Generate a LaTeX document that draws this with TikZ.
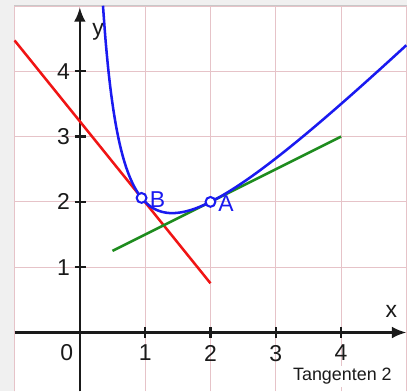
\documentclass[tikz,border=0pt]{standalone}
\usepackage{fontspec}
\setmainfont{Liberation Sans}
\usepackage{tikz}
\usetikzlibrary{arrows.meta}
\definecolor{PlotBlue}{HTML}{1A1AF0}
\definecolor{PlotRed}{HTML}{F01414}
\definecolor{PlotGreen}{HTML}{1E8C1E}
\definecolor{PlotGrid}{HTML}{E6C3C8}
\definecolor{PlotAxis}{HTML}{1A1A1A}
\definecolor{PlotShadow}{HTML}{F0F0F0}
\definecolor{PlotFrame}{HTML}{C8C8C8}
\tikzset{
  gridline/.style={draw=PlotGrid,line width=0.45pt},
  axisline/.style={-{Latex[length=2.2mm,width=1.8mm]},line width=1.1pt,draw=PlotAxis},
  tickmark/.style={line width=1pt,draw=PlotAxis},
  ticklabel/.style={font=\fontsize{10}{11}\selectfont,text=PlotAxis,inner sep=1pt},
  curveline/.style={draw=PlotBlue,line width=1.1pt},
  tangentB/.style={draw=PlotRed,line width=1.1pt},
  tangentA/.style={draw=PlotGreen,line width=1.1pt},
  pointmark/.style={circle,draw=PlotBlue,fill=white,line width=0.9pt,minimum size=1.5mm,inner sep=0pt},
  pointlabel/.style={text=PlotBlue,font=\fontsize{10}{11}\selectfont,anchor=west,inner sep=1pt},
  caption/.style={fill=white,text=PlotAxis,font=\fontsize{7.8}{9}\selectfont,inner sep=1pt}
}
\begin{document}
\begin{tikzpicture}
  % frame and paper
  \fill[PlotShadow] (-1.223,-0.902) rectangle (5.01,5.092);
  \useasboundingbox (-1.223,-0.902) rectangle (5.01,5.092);
  \fill[white] (-1,-0.902) rectangle (5.01,5);
  \draw[PlotFrame,line width=0.5pt] (-1,-0.902) -- (-1,5) -- (5.01,5);
  \draw[gridline] (-1,-0.902) grid (5,5);

  % axes
  \draw[axisline] (-1,0) -- (5,0);
  \draw[axisline] (0,-0.902) -- (0,4.98);
  \foreach \t in {1,2,3,4} {
    \draw[tickmark] (\t,-0.08) -- (\t,0.08);
    \node[ticklabel,anchor=north] at (\t,-0.15) {\t};
    \draw[tickmark] (-0.08,\t) -- (0.1,\t);
    \node[ticklabel,anchor=east] at (-0.11,\t) {\t};
  }
  \node[ticklabel] (origin) at (-0.2,-0.31) {0};
  \node[ticklabel] (xlabel) at (4.77,0.33) {x};
  \node[ticklabel] (ylabel) at (0.28,4.6) {y};

  % graph and tangents
  \draw[tangentB] (-1,4.473) -- (2,0.754);
  \draw[tangentA] (0.5,1.25) -- (4,3);
  \draw[curveline,domain=0.354:5,samples=120,smooth] plot (\x,{\x-1+2/\x});

  % points
  \node[pointmark] (B) at (0.945,2.061) {};
  \node[pointmark] (A) at (2,2) {};
  \node[pointlabel] (Blabel) at (1.03,2.03) {B};
  \node[pointlabel] (Alabel) at (2.08,1.98) {A};

  \node[caption] (title) at (4.02,-0.67) {Tangenten 2};
\end{tikzpicture}
\end{document}
